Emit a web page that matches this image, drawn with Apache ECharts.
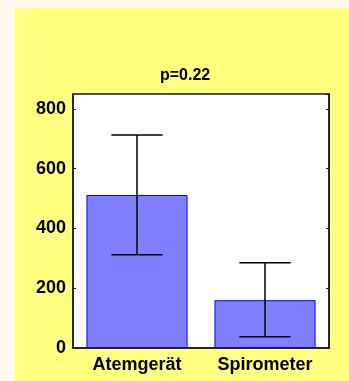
<!DOCTYPE html>
<html>
<head>
<meta charset="utf-8">
<script src="https://cdn.jsdelivr.net/npm/echarts@6/dist/echarts.min.js"></script>
<style>
html,body{margin:0;padding:0;background:#fff9ee;}
#wrap{position:absolute;left:15px;top:8px;width:334px;height:373px;background:#ffff80;}
#chart{width:334px;height:373px;}
</style>
</head>
<body>
<div id="wrap"><div id="chart"></div></div>
<script>
var categories = ['Atemgerät', 'Spirometer'];
var means = [512, 160];
var errLow = [312, 38];
var errHigh = [713, 285];
var yTicks = [0, 200, 400, 600, 800];
var titleText = 'p=0.22';

var FONT = 'Liberation Sans, Arial, sans-serif';
var chart = echarts.init(document.getElementById('chart'), null, {renderer: 'canvas'});

var errData = categories.map(function (c, i) { return [i, errLow[i], errHigh[i]]; });

var option = {
  animation: false,
  backgroundColor: 'transparent',
  title: {
    text: titleText,
    left: 140,
    top: 55,
    textStyle: {fontFamily: FONT, fontWeight: 'bold', fontSize: 16, color: '#000'}
  },
  grid: {
    left: 58, right: 20, top: 86, bottom: 33,
    show: true, backgroundColor: '#ffffff', borderColor: '#1a1a1a', borderWidth: 1.5
  },
  xAxis: {
    type: 'category',
    data: categories,
    axisLine: {show: true, lineStyle: {color: '#1a1a1a', width: 1.5}},
    axisTick: {show: false},
    axisLabel: {fontFamily: FONT, fontWeight: 'bold', fontSize: 18, color: '#000', margin: 8}
  },
  yAxis: [{
    type: 'value', min: 0, max: 850, interval: 200,
    axisLine: {show: true, lineStyle: {color: '#1a1a1a', width: 1.5}},
    axisTick: {show: true, inside: true, length: 3, lineStyle: {color: '#1a1a1a'}},
    splitLine: {show: false},
    axisLabel: {
      fontFamily: FONT, fontWeight: 'bold', fontSize: 18, color: '#000', margin: 7,
      showMaxLabel: false, verticalAlign: 'middle', padding: [3, 0, 0, 0],
      formatter: function (v) { return yTicks.indexOf(v) >= 0 ? String(v) : ''; }
    }
  }, {
    type: 'value', min: 0, max: 850, interval: 200, position: 'right',
    axisLine: {show: true, lineStyle: {color: '#1a1a1a', width: 1.5}},
    axisTick: {show: true, inside: true, length: 3, lineStyle: {color: '#1a1a1a'}},
    splitLine: {show: false},
    axisLabel: {show: false}
  }],
  series: [{
    type: 'bar',
    data: means,
    barWidth: '79%',
    itemStyle: {color: '#8080ff', borderColor: '#0000ff', borderWidth: 1}
  }, {
    type: 'custom',
    data: errData,
    z: 10,
    renderItem: function (params, api) {
      var x = api.value(0);
      var lo = api.coord([x, api.value(1)]);
      var hi = api.coord([x, api.value(2)]);
      var half = api.size([1, 0])[0] * 0.2;
      var st = {stroke: '#000', lineWidth: 1.5};
      return {
        type: 'group',
        children: [
          {type: 'line', shape: {x1: lo[0], y1: lo[1], x2: hi[0], y2: hi[1]}, style: st},
          {type: 'line', shape: {x1: lo[0] - half, y1: lo[1], x2: lo[0] + half, y2: lo[1]}, style: st},
          {type: 'line', shape: {x1: hi[0] - half, y1: hi[1], x2: hi[0] + half, y2: hi[1]}, style: st}
        ]
      };
    },
    encode: {x: 0, y: [1, 2]}
  }]
};
chart.setOption(option);
</script>
</body>
</html>
